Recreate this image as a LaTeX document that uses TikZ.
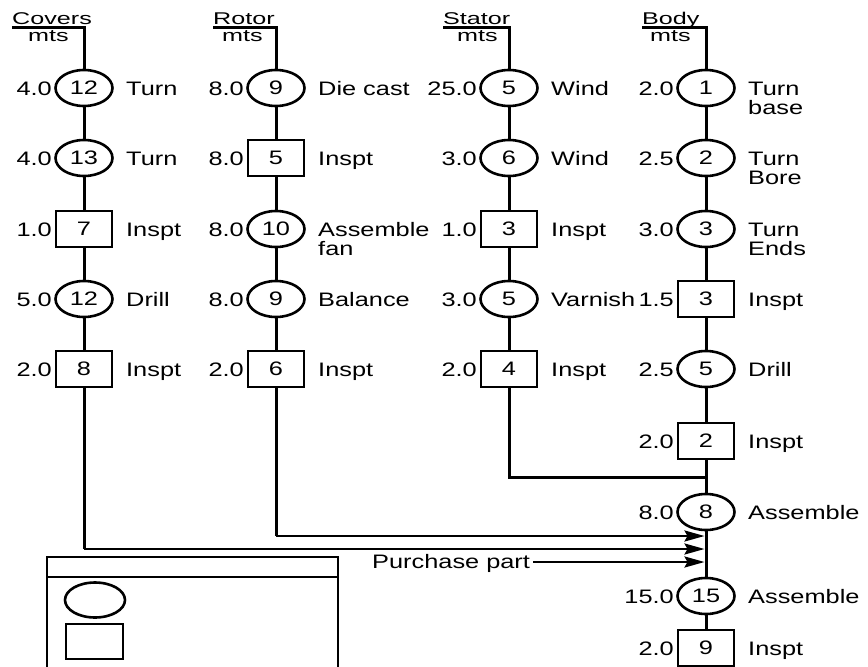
\documentclass[tikz,border=0pt]{standalone}
\usepackage{fontspec}
\setmainfont{Liberation Sans}
\usepackage{graphicx}
\usetikzlibrary{arrows.meta,shapes.geometric}
\newcommand\xw[1]{\scalebox{1.3}[1]{#1}}
\newcommand\xh[1]{\scalebox{1.48}[1]{#1}}
\tikzset{
  op/.style={ellipse, draw, line width=2.6pt, minimum width=57pt, minimum height=36pt, inner sep=0pt, fill=white},
  insp/.style={rectangle, draw, line width=2.6pt, minimum width=56pt, minimum height=36pt, inner sep=0pt, fill=white},
  flow/.style={line width=3pt, line join=miter},
  arr/.style={line width=2.3pt, line join=miter, -{Stealth[length=20pt,width=11pt,inset=3pt]}},
  lg/.style={line width=2.6pt},
  lt/.style={anchor=base east, inner sep=0pt},
  rt/.style={anchor=base west, inner sep=0pt},
  hd/.style={anchor=base west, inner sep=0pt, font=\fontsize{17}{19}\selectfont},
}
% #1 name, #2 style, #3 x, #4 y, #5 number, #6 time, #7 operation
\newcommand\mkop[7]{%
  \node[#2] (#1) at (#3,#4) {\xw{#5}};
  \node[lt] (#1t) at (#3-32,#4+7) {\xw{#6}};
  \node[rt] (#1o) at (#3+42,#4+7) {\xw{#7}};
}
\begin{document}
\begin{tikzpicture}[x=1pt,y=-1pt,font=\fontsize{19.5}{22}\selectfont]
\useasboundingbox (0,0) rectangle (868,667);

% headers
\node[hd] (hcov) at (12,24) {\xh{Covers}};
\node[hd] (mcov) at (28,41) {\xh{mts}};
\node[hd] (hrot) at (213,24) {\xh{Rotor}};
\node[hd] (mrot) at (222,41) {\xh{mts}};
\node[hd] (hsta) at (443,24) {\xh{Stator}};
\node[hd] (msta) at (457,41) {\xh{mts}};
\node[hd] (hbod) at (642,24) {\xh{Body}};
\node[hd] (mbod) at (650,41) {\xh{mts}};
\coordinate (ucov) at (12,27.5);  \coordinate (kcov) at (84,27.5);
\coordinate (urot) at (213,27.5); \coordinate (krot) at (276,27.5);
\coordinate (usta) at (443,27.5); \coordinate (ksta) at (509,27.5);
\coordinate (ubod) at (642,27.5); \coordinate (kbod) at (706,27.5);

% Covers
\mkop{cov1}{op}{84}{88}{12}{4.0}{Turn}
\mkop{cov2}{op}{84}{158}{13}{4.0}{Turn}
\mkop{cov3}{insp}{84}{229}{7}{1.0}{Inspt}
\mkop{cov4}{op}{84}{299}{12}{5.0}{Drill}
\mkop{cov5}{insp}{84}{369}{8}{2.0}{Inspt}
% Rotor
\mkop{rot1}{op}{276}{88}{9}{8.0}{Die cast}
\mkop{rot2}{insp}{276}{158}{5}{8.0}{Inspt}
\mkop{rot3}{op}{276}{229}{10}{8.0}{Assemble}
\node[rt] (rot3b) at (318,255.5) {\xw{fan}};
\mkop{rot4}{op}{276}{299}{9}{8.0}{Balance}
\mkop{rot5}{insp}{276}{369}{6}{2.0}{Inspt}
% Stator
\mkop{sta1}{op}{509}{88}{5}{25.0}{Wind}
\mkop{sta2}{op}{509}{158}{6}{3.0}{Wind}
\mkop{sta3}{insp}{509}{229}{3}{1.0}{Inspt}
\mkop{sta4}{op}{509}{299}{5}{3.0}{Varnish}
\mkop{sta5}{insp}{509}{369}{4}{2.0}{Inspt}
% Body
\mkop{bod1}{op}{706}{88}{1}{2.0}{Turn}
\node[rt] (bod1b) at (748,114.5) {\xw{base}};
\mkop{bod2}{op}{706}{158}{2}{2.5}{Turn}
\node[rt] (bod2b) at (748,184.5) {\xw{Bore}};
\mkop{bod3}{op}{706}{229}{3}{3.0}{Turn}
\node[rt] (bod3b) at (748,255.5) {\xw{Ends}};
\mkop{bod4}{insp}{706}{299}{3}{1.5}{Inspt}
\mkop{bod5}{op}{706}{369}{5}{2.5}{Drill}
\mkop{bod6}{insp}{706}{441}{2}{2.0}{Inspt}
\mkop{bod7}{op}{706}{512}{8}{8.0}{Assemble}
\mkop{bod8}{op}{706}{596}{15}{15.0}{Assemble}
\mkop{bod9}{insp}{706}{648}{9}{2.0}{Inspt}

% vertical flows
\draw[flow] (ucov) -- (kcov) -- (cov1) -- (cov2) -- (cov3) -- (cov4) -- (cov5);
\draw[flow] (urot) -- (krot) -- (rot1) -- (rot2) -- (rot3) -- (rot4) -- (rot5);
\draw[flow] (usta) -- (ksta) -- (sta1) -- (sta2) -- (sta3) -- (sta4) -- (sta5);
\draw[flow] (ubod) -- (kbod) -- (bod1) -- (bod2) -- (bod3) -- (bod4) -- (bod5) -- (bod6) -- (bod7) -- (bod8) -- (bod9);

% stator joins body
\coordinate (stc) at (509,477); \coordinate (stj) at (706,477);
\draw[flow] (sta5.south) -- (stc) -- (stj);

% rotor and covers arrows
\coordinate (rte) at (276,536); \coordinate (ja) at (704.5,536);
\coordinate (cve) at (84,549);  \coordinate (jb) at (704.5,549);
\coordinate (jc) at (704.5,562);
\draw[flow] (rot5.south) -- (rte);
\draw[arr] (rte) -- (ja);
\draw[flow] (cov5.south) -- (cve);
\draw[arr] (cve) -- (jb);
\node[rt] (pp) at (372,568) {\xw{Purchase part}};
\draw[arr] ([xshift=3pt]pp.east |- jc) -- (jc);

% legend
\coordinate (la) at (47,667); \coordinate (lb) at (47,557);
\coordinate (lc) at (338,557); \coordinate (ld) at (338,667);
\coordinate (le) at (47,577); \coordinate (lf) at (338,577);
\draw[lg] (la) -- (lb) -- (lc) -- (ld);
\draw[lg] (le) -- (lf);
\node[ellipse, draw, lg, minimum width=60pt, minimum height=35pt, inner sep=0pt] (legc) at (95,600) {};
\node[rectangle, draw, lg, minimum width=57pt, minimum height=35pt, inner sep=0pt] (legb) at (94.5,641.5) {};
\end{tikzpicture}
\end{document}
